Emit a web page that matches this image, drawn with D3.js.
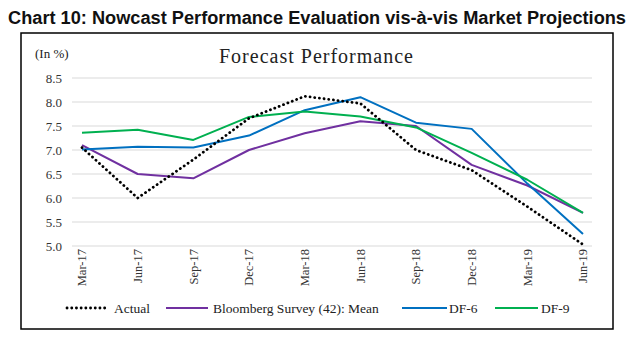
<!DOCTYPE html>
<html><head><meta charset="utf-8">
<script src="https://cdn.jsdelivr.net/npm/d3@7"></script>
<style>body{margin:0;background:#fff;} svg{display:block;}</style>
</head><body>
<script>
const categories = ["Mar-17","Jun-17","Sep-17","Dec-17","Mar-18","Jun-18","Sep-18","Dec-18","Mar-19","Jun-19"];
const actual     = [7.05, 6.00, 6.80, 7.66, 8.12, 7.97, 7.00, 6.58, 5.82, 5.03];
const bloomberg  = [7.10, 6.50, 6.41, 7.00, 7.35, 7.60, 7.50, 6.69, 6.26, 5.69];
const df6        = [7.01, 7.07, 7.05, 7.30, 7.83, 8.10, 7.57, 7.44, 6.30, 5.25];
const df9        = [7.36, 7.42, 7.21, 7.69, 7.80, 7.70, 7.47, 6.94, 6.38, 5.69];
const yTicks     = [5.0, 5.5, 6.0, 6.5, 7.0, 7.5, 8.0, 8.5];
const seriesNames = ["Actual", "Bloomberg Survey (42): Mean", "DF-6", "DF-9"];

const W = 635, H = 340;
const svg = d3.select("body").append("svg").attr("width", W).attr("height", H);
const serif = "'Liberation Serif', 'DejaVu Serif', serif";

svg.append("text").attr("x", 317).attr("y", 24).attr("text-anchor", "middle")
  .attr("font-family", "'Liberation Sans', Arial, sans-serif").attr("font-weight", "bold")
  .attr("font-size", 18).attr("fill", "#111")
  .attr("textLength", 618).attr("lengthAdjust", "spacingAndGlyphs")
  .text("Chart 10: Nowcast Performance Evaluation vis-à-vis Market Projections");

svg.append("rect").attr("x", 21).attr("y", 33).attr("width", 592).attr("height", 296)
  .attr("fill", "none").attr("stroke", "#000").attr("stroke-width", 1.5);

svg.append("text").attr("x", 316).attr("y", 63).attr("text-anchor", "middle")
  .attr("font-family", serif).attr("font-size", 20).attr("fill", "#222")
  .attr("textLength", 194).attr("lengthAdjust", "spacing").text("Forecast Performance");
svg.append("text").attr("x", 35).attr("y", 58)
  .attr("font-family", serif).attr("font-size", 13).attr("fill", "#222").text("(In %)");

const x = d3.scalePoint().domain(categories).range([82, 583]);
const y = d3.scaleLinear().domain([5.0, 8.5]).range([246, 78]);

const g = svg.append("g");
g.selectAll("line.grid").data(yTicks).join("line").attr("class", "grid")
  .attr("x1", 72).attr("x2", 592).attr("y1", d => y(d)).attr("y2", d => y(d))
  .attr("stroke", "#d9d9d9").attr("stroke-width", 1);

const yAxis = d3.axisLeft(y).tickValues(yTicks).tickFormat(d3.format(".1f")).tickSize(0).tickPadding(0);
const ya = svg.append("g").attr("transform", "translate(62,0)").call(yAxis);
ya.select(".domain").remove();
ya.selectAll("text").attr("font-family", serif).attr("font-size", 13).attr("fill", "#333");

const xAxis = d3.axisBottom(x).tickSize(0).tickPadding(0);
const xa = svg.append("g").attr("transform", "translate(0,249)").call(xAxis);
xa.select(".domain").remove();
xa.selectAll("text").attr("font-family", serif).attr("font-size", 12.5).attr("fill", "#333")
  .attr("text-anchor", "end").attr("dy", "0.35em")
  .attr("transform", "rotate(-90)").attr("x", 0).attr("y", 0);
xa.selectAll(".tick").attr("transform", d => `translate(${x(d)},0)`);

const line = d3.line().x((d, i) => x(categories[i])).y(d => y(d));
const series = [
  {name: seriesNames[1], data: bloomberg, color: "#7030A0", dash: null, w: 2},
  {name: seriesNames[2], data: df6, color: "#0070C0", dash: null, w: 2},
  {name: seriesNames[3], data: df9, color: "#00B050", dash: null, w: 2},
  {name: seriesNames[0], data: actual, color: "#000", dash: "0.1 4.6", w: 2.8},
];
series.forEach(s => {
  svg.append("path").datum(s.data).attr("d", line).attr("fill", "none")
    .attr("stroke", s.color).attr("stroke-width", s.w)
    .attr("stroke-linecap", s.dash ? "round" : "butt")
    .attr("stroke-linejoin", "round")
    .attr("stroke-dasharray", s.dash);
});

const legend = [
  {name: seriesNames[0], color: "#000", dash: "0.1 4.6", w: 2.8, x1: 67, x2: 107, tx: 114},
  {name: seriesNames[1], color: "#7030A0", dash: null, w: 2, x1: 166, x2: 208, tx: 213},
  {name: seriesNames[2], color: "#0070C0", dash: null, w: 2, x1: 402, x2: 447, tx: 449},
  {name: seriesNames[3], color: "#00B050", dash: null, w: 2, x1: 495, x2: 538, tx: 541},
];
const lg = svg.append("g");
legend.forEach(l => {
  lg.append("line").attr("x1", l.x1).attr("x2", l.x2).attr("y1", 308).attr("y2", 308)
    .attr("stroke", l.color).attr("stroke-width", l.w)
    .attr("stroke-linecap", l.dash ? "round" : "butt").attr("stroke-dasharray", l.dash);
  lg.append("text").attr("x", l.tx).attr("y", 308).attr("dy", "0.35em")
    .attr("font-family", serif).attr("font-size", 13.5).attr("fill", "#222").text(l.name);
});
</script>
</body></html>
